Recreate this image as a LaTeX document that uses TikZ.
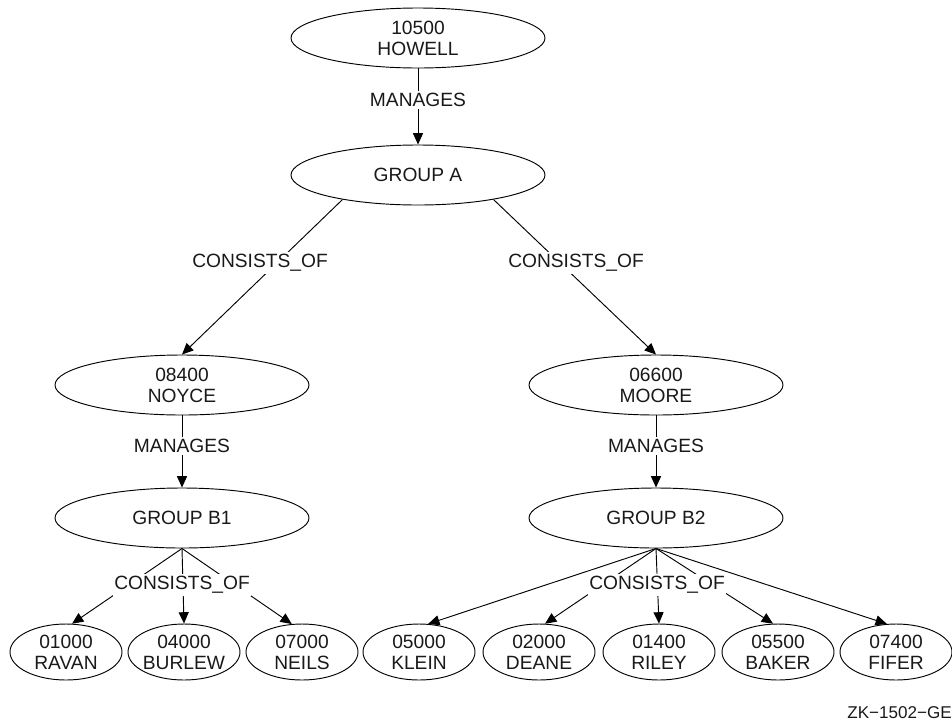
\documentclass[tikz,border=0pt]{standalone}
\usepackage{fontspec}
\setmainfont{Liberation Sans}
\usetikzlibrary{arrows.meta,shapes.geometric}
\tikzset{
  every node/.style={font=\fontsize{14.4}{15.75}\selectfont, text=black!90},
  big/.style={draw, ellipse, inner sep=0pt, minimum width=190.5pt, minimum height=45pt, align=center, line width=0.7pt},
  leaf/.style={draw, ellipse, inner xsep=-3.5pt, inner ysep=0pt, minimum width=84pt, minimum height=42pt, align=center, line width=0.7pt},
  conn/.style={line width=0.7pt, -{Triangle[length=8.5pt,width=7.5pt]}},
  lbl/.style={fill=white, inner xsep=1pt, inner ysep=2pt},
}
\begin{document}
\begin{tikzpicture}[x=0.75pt, y=-0.75pt]
\useasboundingbox (0,0) rectangle (952,722);
% main nodes
\node[big] (howell) at (418,38) {10500\\HOWELL};
\node[big] (ga) at (418,175) {GROUP A};
\node[big] (noyce) at (182,385) {08400\\NOYCE};
\node[big] (moore) at (656,385) {06600\\MOORE};
\node[big] (gb1) at (182,518) {GROUP B1};
\node[big] (gb2) at (656,518) {GROUP B2};
% leaves
\node[leaf] (ravan) at (66,652) {01000\\RAVAN};
\node[leaf] (burlew) at (184,652) {04000\\BURLEW};
\node[leaf] (neils) at (302,652) {07000\\NEILS};
\node[leaf] (klein) at (419,652) {05000\\KLEIN};
\node[leaf] (deane) at (539,652) {02000\\DEANE};
\node[leaf] (riley) at (659,652) {01400\\RILEY};
\node[leaf] (baker) at (778,652) {05500\\BAKER};
\node[leaf] (fifer) at (896,652) {07400\\FIFER};
% connectors
\draw[conn] (howell) -- (ga);
\draw[conn] (ga.198) -- (noyce.north);
\draw[conn] (ga.342) -- (moore.north);
\draw[conn] (noyce) -- (gb1);
\draw[conn] (moore) -- (gb2);
\draw[conn] (gb1.south) -- (ravan.78);
\draw[conn] (gb1.south) -- (burlew.90);
\draw[conn] (gb1.south) -- (neils.110);
\draw[conn] (gb2.south) -- (klein.72);
\draw[conn] (gb2.south) -- (deane.78);
\draw[conn] (gb2.south) -- (riley.90);
\draw[conn] (gb2.south) -- (baker.100);
\draw[conn] (gb2.south) -- (fifer.108);
% labels
\node[lbl] (l1) at (418,100) {MANAGES};
\node[lbl] (l2) at (260,263) {CONSISTS\_OF};
\node[lbl] (l3) at (576,263) {CONSISTS\_OF};
\node[lbl] (l4) at (182,446) {MANAGES};
\node[lbl] (l5) at (656,446) {MANAGES};
\node[lbl] (l6) at (182,585) {CONSISTS\_OF};
\node[lbl] (l7) at (657,585) {CONSISTS\_OF};
\node[anchor=south east, inner sep=0pt, font=\fontsize{12.8}{14}\selectfont] (tag) at (952,719) {ZK−1502−GE};
\end{tikzpicture}
\end{document}
